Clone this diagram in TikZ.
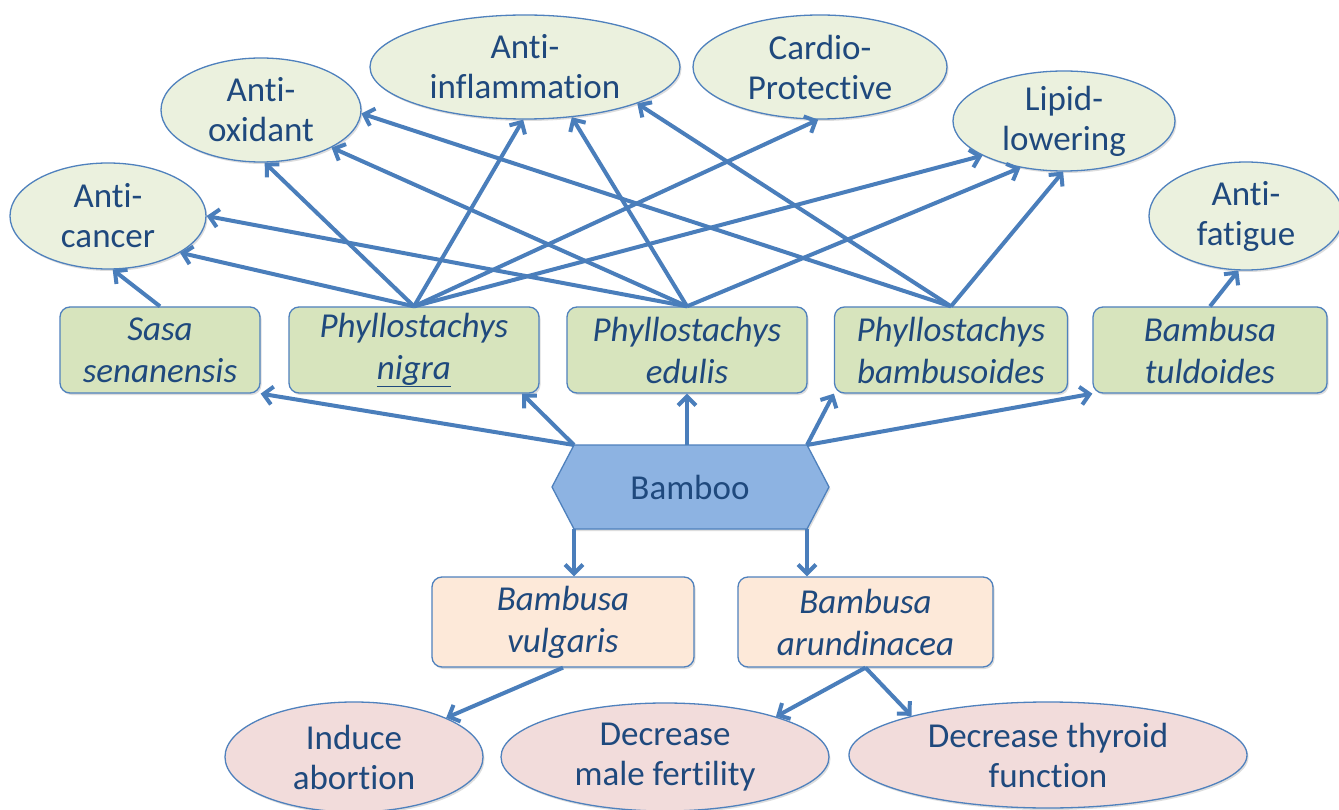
\documentclass[tikz,border=0pt]{standalone}
\usepackage{fontspec}
\setmainfont{Carlito}[Ligatures=NoCommon]
\usetikzlibrary{shapes.geometric,arrows.meta,shadows}
\definecolor{txt}{HTML}{1F497D}
\definecolor{edgec}{HTML}{4F81BD}
\definecolor{arrowc}{HTML}{4A7EBB}
\definecolor{gell}{HTML}{EBF1DE}
\definecolor{gboxc}{HTML}{D7E4BD}
\definecolor{pellc}{HTML}{F2DCDB}
\definecolor{oboxc}{HTML}{FDE9D9}
\definecolor{hexc}{HTML}{8DB3E2}
\begin{document}
\begin{tikzpicture}[x=1pt,y=-1pt,
  every node/.style={font=\fontsize{35}{40}\selectfont, text=txt, align=center},
  shade1/.style={drop shadow={shadow xshift=1.5pt, shadow yshift=-2pt, opacity=0.22, fill=black!60}},
  ell/.style={ellipse, draw=edgec, line width=1.3pt, inner sep=0pt, shade1},
  greenell/.style={ell, fill=gell},
  pinkell/.style={ell, fill=pellc},
  box/.style={rectangle, rounded corners=10pt, draw=edgec, line width=1.3pt, inner sep=0pt,
    font=\fontsize{35}{42}\selectfont\itshape, shade1},
  greenbox/.style={box, fill=gboxc, minimum height=86pt},
  orangebox/.style={box, fill=oboxc, minimum height=90pt},
  arr/.style={draw=arrowc, line width=4pt, -{Straight Barb[length=9pt,width=18pt]}}
]
\path[use as bounding box, fill=white] (0,0) rectangle (1339,810);

% effect ellipses
\node[greenell, minimum width=196pt, minimum height=106pt] (cancer) at (108,216) {Anti-\\cancer};
\node[greenell, minimum width=200pt, minimum height=104pt] (oxid) at (261,110) {Anti-\\oxidant};
\node[greenell, minimum width=310pt, minimum height=104pt] (infl) at (525,67) {Anti-\\inflammation};
\node[greenell, minimum width=254pt, minimum height=104pt] (cardio) at (820,67) {Cardio-\\Protective};
\node[greenell, minimum width=222pt, minimum height=100pt] (lipid) at (1064,121) {Lipid-\\lowering};
\node[greenell, minimum width=194pt, minimum height=108pt] (fatigue) at (1246,216) {Anti-\\fatigue};

% species boxes
\node[greenbox, minimum width=200pt] (sasa) at (160,350) {Sasa\\senanensis};
\node[greenbox, minimum width=250pt] (nigra) at (414,350) {Phyllostachys\\\underline{nigra}};
\node[greenbox, minimum width=240pt] (edulis) at (687,350) {Phyllostachys\\edulis};
\node[greenbox, minimum width=233pt] (bamb) at (951,350) {Phyllostachys\\bambusoides};
\node[greenbox, minimum width=234pt] (tuld) at (1210,350) {Bambusa\\tuldoides};

% bamboo hexagon
\coordinate (bnw) at (574,445);
\coordinate (bne) at (807,445);
\coordinate (be) at (829,487);
\coordinate (bse) at (807,529);
\coordinate (bsw) at (574,529);
\coordinate (bw) at (552,487);
\path[fill=hexc, draw=edgec, line width=1.3pt, shade1] (bnw) -- (bne) -- (be) -- (bse) -- (bsw) -- (bw) -- cycle;
\node (bamboo) at (690,487) {Bamboo};

% toxic species
\node[orangebox, minimum width=262pt] (vulg) at (563,622) {Bambusa\\vulgaris};
\node[orangebox, minimum width=255pt] (arund) at (865.5,622) {Bambusa\\arundinacea};

% adverse effects
\node[pinkell, minimum width=258pt, minimum height=110pt] (abort) at (354,757) {Induce\\abortion};
\node[pinkell, minimum width=328pt, minimum height=108pt] (male) at (665,757) {Decrease\\male fertility};
\node[pinkell, minimum width=398pt, minimum height=106pt] (thyroid) at (1048,755) {Decrease thyroid\\function};

% connectors to effects
\draw[arr] (sasa.north) -- (cancer.-85);
\draw[arr] (nigra.north) -- (cancer.-27);
\draw[arr] (nigra.north) -- (oxid.-86);
\draw[arr] (nigra.north) -- (infl.-92);
\draw[arr] (nigra.north) -- (cardio.-92);
\draw[arr] (nigra.north) -- (lipid.-157);
\draw[arr] (edulis.north) -- (cancer.0);
\draw[arr] (edulis.north) -- (oxid.-28);
\draw[arr] (edulis.north) -- (infl.-47);
\draw[arr] (edulis.north) -- (lipid.-133);
\draw[arr] (bamb.north) -- (oxid.-2);
\draw[arr] (bamb.north) -- (infl.-18);
\draw[arr] (bamb.north) -- (lipid.-91);
\draw[arr] (tuld.north) -- (fatigue.-98);

% connectors from bamboo
\draw[arr] (bnw) -- (sasa.south east);
\draw[arr] (bnw) -- (nigra.-22);
\draw[arr] (edulis.south |- bnw) -- (edulis.south);
\draw[arr] (bne) -- (bamb.south west);
\draw[arr] (bne) -- (tuld.south west);
\draw[arr] (bsw) -- (bsw |- vulg.north);
\draw[arr] (bse) -- (bse |- arund.north);

% connectors to adverse effects
\draw[arr] (vulg.south) -- (abort.23);
\draw[arr] (arund.south) -- (male.20);
\draw[arr] (arund.south) -- (thyroid.164);
\end{tikzpicture}
\end{document}
